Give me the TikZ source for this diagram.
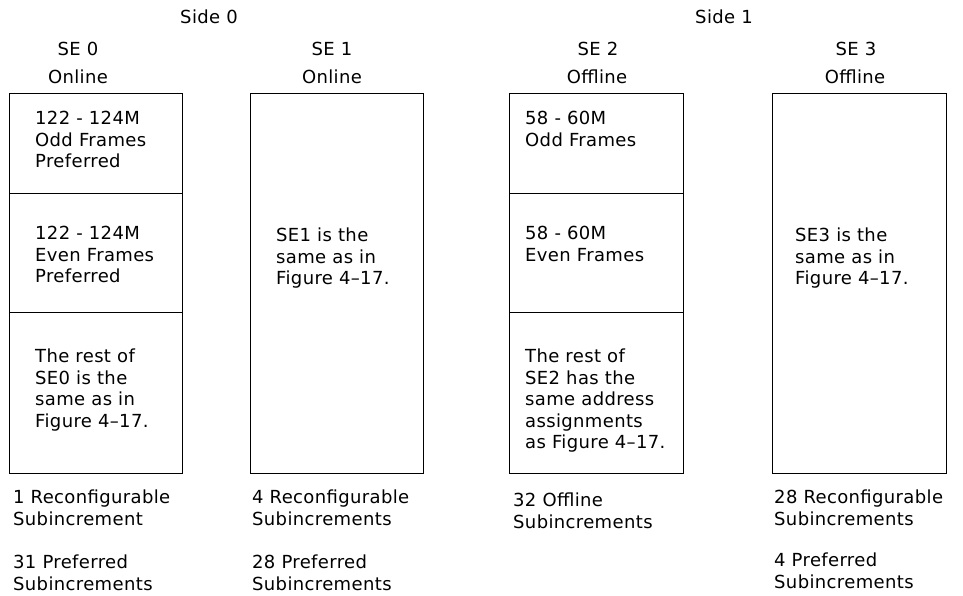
\documentclass[tikz,border=0pt]{standalone}
\usepackage{fontspec}
\setmainfont{DejaVu Sans}[LetterSpace=2]
\begin{document}
\begin{tikzpicture}[x=1pt,y=-1pt,
  box/.style={draw=black,line width=0.9pt},
  txt/.style={anchor=north west,inner sep=0pt,align=left,font=\fontsize{18}{21.5}\selectfont},
  hdr/.style={anchor=base,inner sep=0pt,font=\fontsize{18}{21.5}\selectfont}]
\useasboundingbox (0,0) rectangle (963,595);
% headers
\node[hdr] (side0) at (209,23.5) {Side 0};
\node[hdr] (side1) at (724,23.5) {Side 1};
\node[hdr] (se0) at (78,55.5) {SE 0};
\node[hdr] (on0) at (78,83.5) {Online};
\node[hdr] (se1) at (332,55.5) {SE 1};
\node[hdr] (on1) at (332,83.5) {Online};
\node[hdr] (se2) at (598,55.5) {SE 2};
\node[hdr] (off2) at (597,83.5) {Offline};
\node[hdr] (se3) at (856,55.5) {SE 3};
\node[hdr] (off3) at (855,83.5) {Offline};
% boxes
\draw[box] (9.5,93.5) rectangle (182.5,473.5);
\draw[box] (9.5,193.5) -- (182.5,193.5);
\draw[box] (9.5,312) -- (182.5,312);
\draw[box] (250,93.5) rectangle (423,473.5);
\draw[box] (509,93.5) rectangle (683,473.5);
\draw[box] (509,193.5) -- (683,193.5);
\draw[box] (509,312) -- (683,312);
\draw[box] (772,93.5) rectangle (946,473.5);
% SE0 texts
\node[txt] (a1) at (35,109.5) {\strut 122 - 124M\\Odd Frames\\Preferred};
\node[txt] (a2) at (35,224.5) {\strut 122 - 124M\\Even Frames\\Preferred};
\node[txt] (a3) at (35,347.5) {\strut The rest of\\SE0 is the\\same as in\\Figure 4–17.};
\node[txt] (a4) at (13,488.5) {\strut 1 Reconfigurable\\Subincrement};
\node[txt] (a5) at (13,553.5) {\strut 31 Preferred\\Subincrements};
% SE1 texts
\node[txt] (b1) at (276,226.5) {\strut SE1 is the\\same as in\\Figure 4–17.};
\node[txt] (b2) at (252,488.5) {\strut 4 Reconfigurable\\Subincrements};
\node[txt] (b3) at (252,553.5) {\strut 28 Preferred\\Subincrements};
% SE2 texts
\node[txt] (c1) at (525,109.5) {\strut 58 - 60M\\Odd Frames};
\node[txt] (c2) at (525,224.5) {\strut 58 - 60M\\Even Frames};
\node[txt] (c3) at (525,347.5) {\strut The rest of\\SE2 has the\\same address\\assignments\\as Figure 4–17.};
\node[txt] (c4) at (513,491.5) {\strut 32 Offline\\Subincrements};
% SE3 texts
\node[txt] (d1) at (795,226.5) {\strut SE3 is the\\same as in\\Figure 4–17.};
\node[txt] (d2) at (774,488.5) {\strut 28 Reconfigurable\\Subincrements};
\node[txt] (d3) at (774,551.5) {\strut 4 Preferred\\Subincrements};
\end{tikzpicture}
\end{document}
